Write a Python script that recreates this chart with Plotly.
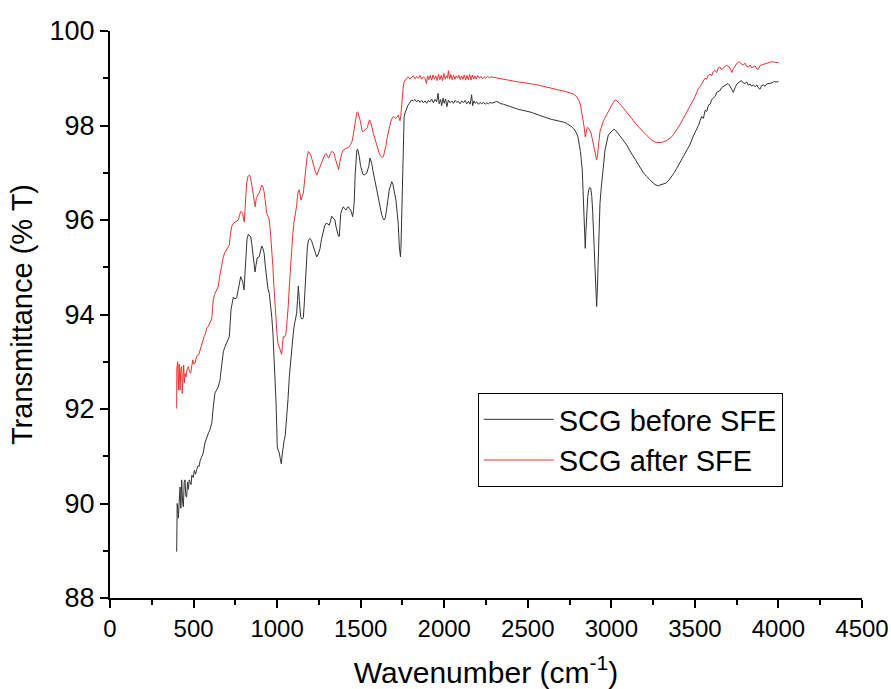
import plotly.graph_objects as go

# ---- SCG before SFE (black) ----
wn_before = [399, 402, 409, 419, 424, 429, 434, 439, 444, 449, 454, 459, 464, 469, 474, 479, 485, 490, 498, 505,
             512, 519, 527, 533, 539, 548, 558, 568, 579, 590, 598, 609, 618, 628, 638, 648, 658, 668, 678, 688,
             698, 708, 714, 724, 738, 748, 758, 766, 774, 782, 788, 794, 802, 808, 814, 820, 828, 835, 842, 848,
             854, 861, 868, 874, 881, 893, 900, 908, 915, 922, 930, 938, 945, 953, 960, 968, 975, 981, 987, 993,
             998, 1001, 1007, 1013, 1019, 1025, 1031, 1037, 1043, 1049, 1057, 1065, 1073, 1080, 1087, 1094, 1101,
             1109, 1117, 1122, 1127, 1133, 1141, 1150, 1157, 1162, 1167, 1173, 1181, 1188, 1197, 1207, 1217, 1227,
             1237, 1247, 1257, 1266, 1276, 1285, 1293, 1302, 1312, 1320, 1327, 1336, 1346, 1353, 1360, 1367, 1372,
             1377, 1381, 1389, 1396, 1404, 1412, 1419, 1426, 1433, 1440, 1446, 1452, 1457, 1462, 1467, 1472, 1477,
             1482, 1487, 1492, 1499, 1506, 1513, 1520, 1528, 1536, 1542, 1548, 1556, 1561, 1566, 1573, 1580, 1588,
             1596, 1604, 1611, 1619, 1626, 1633, 1640, 1648, 1656, 1664, 1671, 1679, 1686, 1693, 1699, 1705, 1711,
             1719, 1725, 1731, 1735, 1738, 1741, 1745, 1749, 1752, 1755, 1760, 1765, 1770, 1775, 1783, 1791, 1798,
             1805, 1815, 1825, 1835, 1845, 1855, 1865, 1875, 1885, 1895, 1905, 1915, 1925, 1935, 1945, 1955, 1963,
             1970, 1978, 1985, 1993, 2000, 2008, 2016, 2025, 2035, 2045, 2055, 2065, 2075, 2085, 2095, 2105, 2115,
             2125, 2135, 2145, 2155, 2164, 2170, 2178, 2186, 2195, 2205, 2215, 2225, 2235, 2245, 2255, 2265, 2275,
             2285, 2295, 2305, 2315, 2325, 2340, 2355, 2370, 2385, 2400, 2415, 2430, 2445, 2460, 2475, 2490, 2505,
             2520, 2535, 2550, 2565, 2580, 2595, 2610, 2625, 2640, 2655, 2670, 2685, 2700, 2715, 2730, 2745, 2760,
             2775, 2790, 2800, 2808, 2815, 2820, 2826, 2831, 2836, 2840, 2844, 2848, 2853, 2859, 2865, 2871, 2877,
             2883, 2888, 2894, 2900, 2906, 2912, 2917, 2922, 2927, 2932, 2940, 2948, 2955, 2962, 2972, 2982, 2992,
             3002, 3010, 3016, 3024, 3032, 3047, 3062, 3077, 3092, 3112, 3132, 3152, 3172, 3192, 3212, 3232, 3251,
             3261, 3271, 3281, 3291, 3309, 3327, 3344, 3361, 3376, 3391, 3411, 3431, 3451, 3471, 3491, 3511, 3521,
             3531, 3541, 3551, 3561, 3571, 3581, 3591, 3601, 3611, 3621, 3631, 3640, 3650, 3660, 3670, 3680, 3690,
             3698, 3706, 3713, 3720, 3730, 3740, 3752, 3766, 3778, 3790, 3800, 3810, 3820, 3830, 3840, 3850, 3860,
             3870, 3879, 3890, 3900, 3910, 3920, 3930, 3945, 3959, 3975, 3989, 4000]
t_before = [88.98, 90.00, 89.69, 90.35, 89.90, 90.50, 90.05, 89.93, 90.45, 90.50, 90.15, 90.14, 90.45, 90.30, 90.50,
            90.45, 90.40, 90.60, 90.55, 90.70, 90.62, 90.72, 90.80, 90.78, 90.90, 90.98, 91.07, 91.28, 91.41, 91.50,
            91.56, 91.70, 92.04, 92.34, 92.40, 92.47, 92.61, 92.97, 93.21, 93.32, 93.40, 93.50, 93.53, 94.10, 94.37,
            94.33, 94.35, 94.50, 94.67, 94.80, 94.75, 94.69, 94.52, 94.90, 95.37, 95.60, 95.70, 95.68, 95.64, 95.50,
            95.30, 95.05, 94.90, 95.05, 95.20, 95.22, 95.35, 95.45, 95.40, 95.30, 95.00, 94.67, 94.55, 94.45, 94.25,
            93.95, 93.60, 93.19, 92.70, 92.19, 91.60, 91.20, 91.12, 91.07, 90.95, 90.84, 91.05, 91.28, 91.35, 91.45,
            91.77, 92.20, 92.68, 93.00, 93.25, 93.50, 93.74, 93.90, 94.03, 94.30, 94.60, 94.30, 93.95, 93.90, 93.93,
            94.20, 94.58, 95.05, 95.43, 95.58, 95.61, 95.55, 95.44, 95.30, 95.22, 95.28, 95.40, 95.60, 95.79, 95.88,
            95.93, 95.92, 95.89, 96.00, 96.08, 96.04, 96.00, 95.85, 95.72, 95.66, 95.65, 95.90, 96.14, 96.22, 96.28,
            96.24, 96.21, 96.26, 96.28, 96.24, 96.21, 96.15, 96.07, 96.20, 96.42, 96.95, 97.41, 97.48, 97.50, 97.44,
            97.34, 97.15, 97.02, 96.97, 96.95, 96.98, 96.99, 97.06, 97.13, 97.31, 97.27, 97.20, 97.05, 96.92, 96.78,
            96.64, 96.50, 96.35, 96.22, 96.11, 96.04, 96.00, 96.05, 96.21, 96.45, 96.64, 96.76, 96.81, 96.76, 96.67,
            96.55, 96.42, 96.14, 95.90, 95.45, 95.26, 95.22, 95.40, 96.00, 96.78, 97.50, 97.97, 98.18, 98.26, 98.32,
            98.36, 98.43, 98.47, 98.52, 98.54, 98.52, 98.55, 98.50, 98.54, 98.49, 98.53, 98.48, 98.52, 98.47, 98.53,
            98.50, 98.56, 98.48, 98.55, 98.50, 98.68, 98.46, 98.55, 98.42, 98.58, 98.47, 98.56, 98.40, 98.54, 98.48,
            98.52, 98.47, 98.53, 98.49, 98.51, 98.46, 98.52, 98.48, 98.53, 98.46, 98.51, 98.45, 98.65, 98.42, 98.52,
            98.47, 98.50, 98.45, 98.49, 98.46, 98.49, 98.45, 98.48, 98.46, 98.49, 98.47, 98.49, 98.50, 98.51, 98.49,
            98.46, 98.45, 98.43, 98.42, 98.40, 98.38, 98.36, 98.34, 98.33, 98.32, 98.30, 98.29, 98.28, 98.26, 98.24,
            98.22, 98.20, 98.18, 98.16, 98.14, 98.13, 98.12, 98.11, 98.10, 98.09, 98.07, 98.05, 98.02, 97.98, 97.93,
            97.85, 97.76, 97.63, 97.45, 97.28, 97.06, 96.60, 96.21, 95.75, 95.40, 95.75, 96.21, 96.50, 96.64, 96.69,
            96.67, 96.50, 96.21, 95.75, 95.30, 94.70, 94.17, 94.60, 95.22, 95.85, 96.35, 96.70, 96.92, 97.22, 97.48,
            97.68, 97.80, 97.84, 97.87, 97.90, 97.92, 97.90, 97.87, 97.80, 97.73, 97.66, 97.59, 97.46, 97.34, 97.21,
            97.09, 97.00, 96.92, 96.84, 96.78, 96.75, 96.74, 96.72, 96.74, 96.76, 96.78, 96.84, 96.92, 97.00, 97.09,
            97.22, 97.34, 97.48, 97.60, 97.78, 97.92, 98.00, 98.10, 98.19, 98.15, 98.32, 98.30, 98.43, 98.45, 98.55,
            98.58, 98.62, 98.70, 98.72, 98.74, 98.80, 98.82, 98.84, 98.87, 98.89, 98.86, 98.82, 98.75, 98.70, 98.80,
            98.88, 98.92, 98.95, 98.90, 98.89, 98.92, 98.85, 98.88, 98.83, 98.86, 98.82, 98.86, 98.80, 98.77, 98.85,
            98.86, 98.83, 98.88, 98.89, 98.90, 98.93, 98.92, 98.93, 98.92]

# ---- SCG after SFE (red) ----
wn_after = [399, 400, 405, 409, 414, 419, 424, 429, 432, 437, 441, 445, 450, 455, 462, 469, 476, 483, 489, 495,
            502, 509, 516, 523, 531, 539, 545, 551, 557, 563, 570, 579, 588, 598, 605, 610, 614, 618, 625, 632,
            640, 648, 655, 662, 670, 678, 688, 698, 706, 714, 721, 728, 738, 748, 758, 768, 775, 782, 788, 794,
            800, 804, 811, 818, 826, 834, 841, 848, 855, 862, 866, 869, 875, 881, 887, 893, 900, 908, 915, 922,
            930, 938, 945, 953, 960, 968, 975, 981, 987, 993, 999, 1005, 1011, 1017, 1022, 1027, 1032, 1037, 1044,
            1051, 1056, 1061, 1067, 1073, 1080, 1087, 1094, 1101, 1109, 1117, 1122, 1127, 1133, 1138, 1143, 1150,
            1157, 1165, 1173, 1180, 1187, 1194, 1201, 1209, 1217, 1227, 1237, 1247, 1257, 1266, 1276, 1285, 1293,
            1300, 1308, 1318, 1327, 1334, 1340, 1348, 1357, 1362, 1368, 1375, 1381, 1388, 1396, 1406, 1416, 1424,
            1432, 1440, 1448, 1454, 1460, 1466, 1472, 1477, 1482, 1489, 1496, 1503, 1510, 1518, 1526, 1533, 1540,
            1546, 1552, 1557, 1562, 1569, 1576, 1584, 1592, 1599, 1606, 1613, 1620, 1628, 1636, 1644, 1652, 1659,
            1666, 1673, 1680, 1688, 1695, 1703, 1711, 1718, 1725, 1730, 1735, 1740, 1746, 1750, 1755, 1760, 1766,
            1775, 1785, 1795, 1805, 1815, 1825, 1835, 1845, 1855, 1865, 1875, 1885, 1894, 1900, 1908, 1916, 1925,
            1933, 1942, 1950, 1958, 1966, 1974, 1982, 1990, 1998, 2006, 2014, 2020, 2025, 2032, 2040, 2048, 2056,
            2064, 2072, 2080, 2088, 2096, 2104, 2112, 2120, 2128, 2136, 2144, 2152, 2160, 2168, 2176, 2184, 2192,
            2200, 2210, 2220, 2230, 2240, 2250, 2260, 2270, 2280, 2294, 2320, 2345, 2370, 2394, 2420, 2445, 2470,
            2494, 2520, 2545, 2570, 2593, 2620, 2645, 2670, 2693, 2723, 2753, 2775, 2793, 2810, 2817, 2825, 2832,
            2838, 2844, 2850, 2856, 2864, 2872, 2880, 2888, 2895, 2902, 2907, 2912, 2917, 2922, 2927, 2932, 2940,
            2948, 2960, 2972, 2982, 2992, 3002, 3012, 3020, 3028, 3038, 3048, 3065, 3082, 3102, 3122, 3141, 3161,
            3181, 3201, 3221, 3241, 3256, 3271, 3286, 3301, 3316, 3331, 3346, 3361, 3376, 3391, 3411, 3431, 3451,
            3471, 3486, 3501, 3511, 3521, 3531, 3540, 3550, 3560, 3570, 3580, 3590, 3600, 3610, 3620, 3630, 3640,
            3650, 3660, 3670, 3680, 3690, 3698, 3706, 3714, 3722, 3730, 3740, 3752, 3766, 3778, 3790, 3800, 3810,
            3820, 3830, 3840, 3850, 3860, 3870, 3879, 3890, 3900, 3915, 3930, 3945, 3959, 3975, 3989, 4000]
t_after = [92.01, 92.86, 93.00, 92.40, 92.95, 92.40, 92.85, 92.90, 92.33, 92.85, 92.93, 92.55, 92.75, 92.68, 92.85,
           92.90, 92.78, 92.76, 92.95, 93.04, 92.95, 92.97, 93.08, 93.14, 93.15, 93.25, 93.32, 93.39, 93.45, 93.53,
           93.58, 93.71, 93.75, 93.81, 93.88, 93.95, 94.15, 94.31, 94.42, 94.48, 94.54, 94.59, 94.78, 94.94, 95.10,
           95.22, 95.32, 95.37, 95.43, 95.47, 95.70, 95.86, 95.93, 95.96, 95.97, 96.00, 96.10, 96.18, 96.17, 96.14,
           96.00, 95.96, 96.40, 96.78, 96.92, 96.95, 96.90, 96.78, 96.60, 96.42, 96.28, 96.28, 96.45, 96.53, 96.55,
           96.57, 96.66, 96.74, 96.70, 96.60, 96.38, 96.14, 96.08, 96.00, 95.75, 95.43, 95.00, 94.59, 94.20, 93.88,
           93.60, 93.39, 93.33, 93.28, 93.22, 93.16, 93.35, 93.53, 93.52, 93.57, 93.70, 93.88, 94.20, 94.59, 95.00,
           95.37, 95.70, 95.96, 96.10, 96.30, 96.50, 96.62, 96.64, 96.48, 96.42, 96.50, 96.57, 96.85, 97.13, 97.35,
           97.45, 97.42, 97.38, 97.28, 97.16, 97.04, 96.95, 97.04, 97.13, 97.24, 97.34, 97.38, 97.41, 97.36, 97.31,
           97.40, 97.45, 97.44, 97.42, 97.30, 97.20, 97.10, 97.07, 97.22, 97.34, 97.42, 97.48, 97.50, 97.52, 97.54,
           97.55, 97.60, 97.66, 97.76, 97.90, 98.08, 98.22, 98.27, 98.29, 98.22, 98.12, 98.00, 97.87, 97.88, 97.90,
           97.93, 97.96, 98.05, 98.12, 98.10, 98.05, 97.95, 97.83, 97.73, 97.62, 97.53, 97.45, 97.39, 97.35, 97.33,
           97.34, 97.45, 97.59, 97.75, 97.87, 97.98, 98.08, 98.15, 98.19, 98.17, 98.15, 98.18, 98.22, 98.16, 98.10,
           98.20, 98.47, 98.70, 98.82, 98.92, 98.96, 99.00, 99.03, 98.98, 99.02, 99.05, 98.99, 99.04, 99.00, 99.06,
           98.98, 99.03, 99.00, 98.89, 99.05, 98.97, 99.06, 98.96, 99.07, 98.98, 99.05, 98.95, 99.08, 98.97, 99.06,
           98.95, 99.10, 98.98, 99.05, 99.00, 99.16, 98.98, 99.08, 98.97, 99.06, 98.98, 99.05, 99.00, 99.06, 98.97,
           99.05, 98.98, 99.07, 98.96, 99.06, 98.97, 99.08, 98.96, 99.07, 98.98, 99.05, 98.98, 99.06, 99.00, 99.04,
           98.99, 99.03, 99.00, 99.04, 99.01, 99.03, 99.02, 99.00, 98.99, 98.97, 98.96, 98.94, 98.92, 98.91, 98.89,
           98.88, 98.87, 98.85, 98.84, 98.81, 98.79, 98.77, 98.75, 98.72, 98.69, 98.66, 98.61, 98.50, 98.40, 98.25,
           98.12, 97.95, 97.76, 97.88, 97.96, 97.94, 97.90, 97.82, 97.69, 97.55, 97.41, 97.33, 97.27, 97.35, 97.48,
           97.70, 97.87, 97.98, 98.05, 98.15, 98.22, 98.30, 98.36, 98.43, 98.50, 98.53, 98.54, 98.51, 98.47, 98.40,
           98.33, 98.24, 98.15, 98.06, 97.97, 97.90, 97.83, 97.76, 97.69, 97.66, 97.64, 97.64, 97.64, 97.66, 97.68,
           97.72, 97.76, 97.83, 97.90, 98.02, 98.15, 98.28, 98.40, 98.50, 98.61, 98.70, 98.79, 98.82, 98.88, 98.92,
           99.00, 98.98, 99.06, 99.09, 99.05, 99.14, 99.17, 99.12, 99.22, 99.24, 99.18, 99.22, 99.26, 99.28, 99.25,
           99.24, 99.18, 99.12, 99.20, 99.27, 99.32, 99.35, 99.30, 99.28, 99.32, 99.25, 99.24, 99.28, 99.22, 99.24,
           99.26, 99.20, 99.19, 99.27, 99.28, 99.30, 99.32, 99.33, 99.35, 99.34, 99.34, 99.33]

series_names = ["SCG before SFE", "SCG after SFE"]
series_colors = ["#333333", "#f03030"]

x_ticks = [0, 500, 1000, 1500, 2000, 2500, 3000, 3500, 4000, 4500]
y_ticks = [88, 90, 92, 94, 96, 98, 100]

fig = go.Figure()
fig.add_trace(go.Scatter(x=wn_before, y=t_before, mode="lines", name=series_names[0],
                         line=dict(color=series_colors[0], width=1)))
fig.add_trace(go.Scatter(x=wn_after, y=t_after, mode="lines", name=series_names[1],
                         line=dict(color=series_colors[1], width=1)))

fig.update_layout(
    width=891, height=689,
    margin=dict(l=110, r=29, t=31, b=91),
    plot_bgcolor="white", paper_bgcolor="white",
    font=dict(family="Liberation Sans, Arial, sans-serif", color="black", size=27),
    legend=dict(x=0.489, y=0.3616, xanchor="left", yanchor="top",
                bordercolor="black", borderwidth=1, bgcolor="white",
                font=dict(size=29), itemwidth=70, tracegroupgap=0),
)
fig.update_xaxes(
    range=[0, 4500], tickmode="array", tickvals=x_ticks,
    showline=True, linecolor="black", linewidth=2, mirror=False,
    ticks="outside", ticklen=8, tickwidth=2, tickcolor="black",
    minor=dict(dtick=250, tick0=0, ticks="outside", ticklen=5, tickwidth=2, tickcolor="black", showgrid=False),
    showgrid=False, zeroline=False, automargin=False,
    ticklabeloverflow="allow",
    tickfont=dict(family="Liberation Sans, Arial, sans-serif", size=24),
    title=dict(text="Wavenumber (cm<sup>-1</sup>)", font=dict(size=30), standoff=22),
)
fig.update_yaxes(
    range=[88, 100], tickmode="array", tickvals=y_ticks,
    showline=True, linecolor="black", linewidth=2, mirror=False,
    ticks="outside", ticklen=8, tickwidth=2, tickcolor="black",
    minor=dict(dtick=1, tick0=88, ticks="outside", ticklen=5, tickwidth=2, tickcolor="black", showgrid=False),
    showgrid=False, zeroline=False, automargin=False,
    tickfont=dict(size=27),
    title=dict(text="Transmittance (% T)", font=dict(size=29), standoff=8),
)

fig.write_html("out.html")
